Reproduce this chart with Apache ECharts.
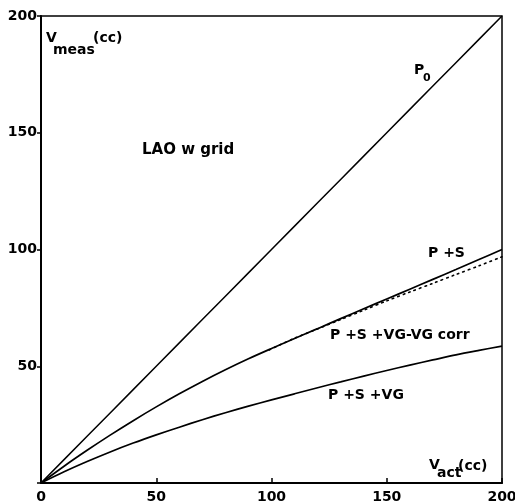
<!DOCTYPE html>
<html>
<head>
<meta charset="utf-8">
<script src="https://cdn.jsdelivr.net/npm/echarts@6/dist/echarts.min.js"></script>
<style>
  html, body { margin: 0; padding: 0; background: #fff; }
  #chart { width: 515px; height: 504px; }
</style>
</head>
<body>
<div id="chart"></div>
<script>
// Actual volume (cc) along the horizontal axis
const vAct = [0, 10, 20, 30, 40, 50, 60, 70, 80, 90, 100, 110, 120, 130, 140, 150, 160, 170, 180, 190, 200];

// Measured volume (cc) for each correction stage
const p0 = [0, 10, 20, 30, 40, 50, 60, 70, 80, 90, 100, 110, 120, 130, 140, 150, 160, 170, 180, 190, 200];
const pS = [0, 7.2, 14, 20.5, 26.7, 32.6, 38.2, 43.5, 48.5, 53.2, 57.6, 61.9, 66.1, 70.4, 74.6, 78.8, 83, 87.2, 91.4, 95.7, 100];
const pSVG = [0, 4.8, 9.2, 13.3, 17.1, 20.6, 23.9, 27.1, 30.1, 32.9, 35.6, 38.2, 40.8, 43.3, 45.8, 48.2, 50.5, 52.7, 54.9, 56.8, 58.6];

// Dotted curve: P+S+VG with the VG correction applied (from ~100 cc upward)
const corrX = [99, 110, 120, 130, 140, 150, 160, 170, 180, 190, 200];
const corrY = [57, 62, 66, 70, 74, 78, 81.8, 85.5, 89.3, 93, 96.9];

// Axis ticks
const tickValues = [0, 50, 100, 150, 200];

const pairs = (xs, ys) => xs.map((x, i) => [x, ys[i]]);

const tickFont = { fontFamily: 'DejaVu Sans', fontWeight: 'bold', fontSize: 14, color: '#000' };
const labelFont = 'bold 14px "DejaVu Sans"';

function txt(text, x, y, font) {
  return {
    type: 'text', x: x, y: y, silent: true,
    style: { text: text, font: font || labelFont, fill: '#000', textAlign: 'left', textVerticalAlign: 'middle' }
  };
}

const chart = echarts.init(document.getElementById('chart'), null, { renderer: 'canvas' });
chart.setOption({
  animation: false,
  backgroundColor: '#fff',
  grid: {
    left: 41, right: 13, top: 16, bottom: 21,
    containLabel: false, outerBoundsMode: 'none',
    show: true, borderColor: '#000', borderWidth: 1.5, backgroundColor: 'transparent'
  },
  xAxis: {
    type: 'value', min: tickValues[0], max: tickValues[tickValues.length - 1], interval: 50,
    axisLine: { lineStyle: { color: '#000', width: 2 } },
    axisTick: { inside: true, length: 5, lineStyle: { color: '#000', width: 1.5 } },
    axisLabel: Object.assign({ margin: 7, hideOverlap: false }, tickFont),
    splitLine: { show: false }
  },
  yAxis: {
    type: 'value', min: tickValues[0], max: tickValues[tickValues.length - 1], interval: 50,
    axisLine: { lineStyle: { color: '#000', width: 2 } },
    axisTick: { length: 4, lineStyle: { color: '#000', width: 1.5 } },
    axisLabel: Object.assign({ margin: 4, formatter: v => (v === 0 ? '' : String(v)) }, tickFont),
    splitLine: { show: false }
  },
  series: [
    { name: 'Po', type: 'line', data: pairs(vAct, p0), symbol: 'none',
      lineStyle: { color: '#000', width: 1.5 } },
    { name: 'P+S', type: 'line', data: pairs(vAct, pS), symbol: 'none', smooth: 0.3,
      lineStyle: { color: '#000', width: 1.7 } },
    { name: 'P+S+VG', type: 'line', data: pairs(vAct, pSVG), symbol: 'none', smooth: 0.3,
      lineStyle: { color: '#000', width: 1.7 } },
    { name: 'P+S+VG-VG corr', type: 'line', data: pairs(corrX, corrY), symbol: 'none', smooth: 0.3,
      lineStyle: { color: '#000', width: 1.6, type: [1.6, 4.2], cap: 'round' } }
  ],
  graphic: [
    txt('V', 46, 38),
    txt('meas', 53, 50),
    txt('(cc)', 93, 38),
    txt('P', 414, 70),
    txt('0', 423, 78, 'bold 11px "DejaVu Sans"'),
    txt('LAO w grid', 142, 150, 'bold 15px "DejaVu Sans"'),
    txt('P +S', 428, 253),
    txt('P +S +VG-VG corr', 330, 335),
    txt('P +S +VG', 328, 395),
    txt('V', 429, 465),
    txt('act', 437, 473),
    txt('(cc)', 458, 466)
  ]
});
</script>
</body>
</html>
